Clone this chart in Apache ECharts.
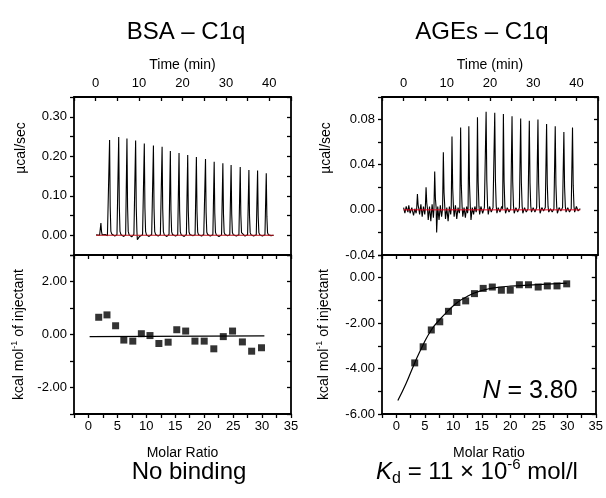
<!DOCTYPE html>
<html>
<head>
<meta charset="utf-8">
<title>ITC BSA / AGEs - C1q</title>
<script src="https://cdn.jsdelivr.net/npm/echarts@6/dist/echarts.min.js"></script>
<style>
html,body{margin:0;padding:0;background:#fff;}
#chart{width:606px;height:498px;}
</style>
</head>
<body>
<div id="chart"></div>
<script>
// ---- tick labels ----
var timeTicks = [0, 10, 20, 30, 40];
var molarTicks = [0, 5, 10, 15, 20, 25, 30, 35];
var bsaPowerTicks = [0, 0.1, 0.2, 0.3];
var agesPowerTicks = [-0.04, 0, 0.04, 0.08];
var bsaHeatTicks = [-2, 0, 2];
var agesHeatTicks = [-6, -4, -2, 0];

// ---- BSA - C1q raw thermogram (min, ucal/sec) ----
var bsaPeakTime = [1.2, 3.2, 5.3, 7.2, 9.2, 11.2, 13.3, 15.3, 17.2, 19.2, 21.2, 23.2, 25.3, 27.3, 29.3, 31.2, 33.3, 35.3, 37.3, 39.3];
var bsaPeakHeight = [0.031, 0.241, 0.249, 0.245, 0.240, 0.232, 0.227, 0.224, 0.213, 0.208, 0.203, 0.198, 0.193, 0.186, 0.182, 0.178, 0.173, 0.165, 0.164, 0.157];
var bsaNoise = [[0.1,0.001],[0.5,-0.002],[0.9,0.000],[1.7,-0.003],[2.2,0.002],[2.7,-0.001],[3.7,0.003],[4.4,-0.002],[4.9,0.001],
  [5.8,0.002],[6.4,-0.003],[6.9,0.001],[7.7,0.001],[8.3,-0.004],[8.8,0.002],[9.6,-0.011],[10.1,-0.003],[10.8,0.001],
  [11.7,0.001],[12.3,-0.003],[12.9,0.002],[13.8,0.002],[14.4,-0.002],[14.9,0.001],[15.8,0.001],[16.4,-0.003],[16.9,0.002],
  [17.7,0.002],[18.4,-0.002],[18.9,0.001],[19.7,0.001],[20.4,-0.003],[20.9,0.002],[21.7,0.002],[22.4,-0.001],[22.9,0.001],
  [23.7,0.001],[24.4,-0.002],[24.9,0.002],[25.8,0.002],[26.4,-0.002],[27.0,0.001],[27.8,0.001],[28.4,-0.003],[29.0,0.001],
  [29.8,0.002],[30.4,-0.001],[30.9,0.001],[31.7,0.001],[32.4,-0.002],[33.0,0.001],[33.8,0.002],[34.4,-0.002],[35.0,0.001],
  [35.8,0.001],[36.4,-0.002],[37.0,0.001],[37.8,0.001],[38.4,-0.002],[39.0,0.001],[39.8,0.001],[40.4,-0.001],[41.0,0.000]];
var bsaBaseTime = [0.1, 41.0];
var bsaBaseValue = [0, 0];

// ---- BSA - C1q integrated heats (molar ratio, kcal/mol) ----
var bsaRatio = [1.77, 3.2, 4.69, 6.11, 7.66, 9.14, 10.63, 12.17, 13.77, 15.26, 16.8, 18.4, 20.0, 21.66, 23.3, 24.9, 26.6, 28.2, 29.9];
var bsaHeat = [0.65, 0.74, 0.33, -0.21, -0.25, 0.03, -0.04, -0.34, -0.29, 0.18, 0.13, -0.25, -0.25, -0.54, -0.08, 0.13, -0.28, -0.63, -0.50];
var bsaFitRatio = [0.2, 30.4];
var bsaFitHeat = [-0.08, -0.05];

// ---- AGEs - C1q raw thermogram ----
var agesPeakTime = [3.2, 5.2, 7.2, 9.2, 11.2, 13.2, 15.1, 17.1, 19.1, 21.1, 23.1, 25.1, 27.1, 29.1, 31.1, 33.1, 35.1, 37.1, 39.1];
var agesPeakHeight = [0.014, 0.020, 0.034, 0.051, 0.065, 0.073, 0.074, 0.082, 0.087, 0.086, 0.085, 0.083, 0.081, 0.079, 0.080, 0.076, 0.074, 0.069, 0.073];
var agesNoise = [[0.0,0.002],[0.3,-0.003],[0.6,0.003],[1.0,-0.002],[1.2,0.004],[1.5,-0.003],[1.9,0.002],[2.3,-0.005],[2.6,0.001],[2.9,-0.003],
  [3.7,-0.004],[4.0,0.005],[4.3,-0.006],[4.6,0.003],[4.9,-0.004],
  [5.7,-0.009],[6.0,0.003],[6.3,-0.010],[6.6,0.005],[6.9,-0.007],
  [7.65,-0.020],[7.9,0.003],[8.2,-0.009],[8.5,0.004],[8.8,-0.006],
  [9.7,-0.008],[10.0,0.002],[10.3,-0.010],[10.6,0.003],[10.9,-0.004],
  [11.7,-0.006],[12.0,0.004],[12.3,-0.008],[12.6,0.002],[12.9,-0.003],
  [13.7,-0.006],[14.0,0.002],[14.3,-0.007],[14.6,0.003],[14.8,-0.003],
  [15.6,-0.009],[15.9,0.002],[16.2,-0.004],[16.5,0.003],[16.8,-0.002],
  [17.6,-0.004],[17.9,0.003],[18.3,-0.003],[18.7,0.002],
  [19.6,-0.004],[19.9,0.003],[20.3,-0.002],[20.7,0.002],
  [21.6,-0.003],[21.9,0.002],[22.3,-0.002],[22.7,0.003],
  [23.6,-0.003],[24.0,0.002],[24.4,-0.002],[24.8,0.001],
  [25.6,-0.003],[26.0,0.002],[26.4,-0.002],[26.8,0.002],
  [27.6,-0.003],[28.0,0.002],[28.4,-0.002],[28.8,0.001],
  [29.6,-0.002],[30.0,0.002],[30.4,-0.002],[30.8,0.002],
  [31.6,-0.003],[32.0,0.002],[32.4,-0.001],[32.8,0.002],
  [33.6,-0.002],[34.0,0.001],[34.4,-0.002],[34.8,0.001],
  [35.6,-0.003],[36.0,0.002],[36.4,-0.001],[36.8,0.002],
  [37.6,-0.002],[38.0,0.002],[38.4,-0.002],[38.8,0.001],
  [39.6,-0.002],[40.0,0.003],[40.4,-0.001],[40.9,0.001]];
var agesBaseTime = [0.0, 40.9];
var agesBaseValue = [0, 0];

// ---- AGEs - C1q integrated heats ----
var agesRatio = [3.24, 4.72, 6.15, 7.63, 9.16, 10.64, 12.18, 13.72, 15.25, 16.85, 18.44, 20.0, 21.6, 23.2, 24.9, 26.5, 28.2, 29.9];
var agesHeat = [-3.75, -3.04, -2.30, -1.94, -1.48, -1.09, -1.02, -0.70, -0.47, -0.41, -0.55, -0.55, -0.31, -0.31, -0.41, -0.36, -0.36, -0.27];
var agesFitRatio = [0.28, 1.7, 3.24, 4.7, 6.15, 7.6, 9.16, 10.6, 12.2, 13.7, 15.25, 16.85, 20.0, 23.2, 26.5, 29.9];
var agesFitHeat = [-5.41, -4.67, -3.75, -2.96, -2.30, -1.85, -1.44, -1.11, -0.86, -0.67, -0.55, -0.46, -0.37, -0.33, -0.28, -0.24];

var FONT = 'Liberation Sans, Arial, sans-serif';

function pairs(xs, ys) {
  var out = [];
  for (var i = 0; i < xs.length; i++) out.push([xs[i], ys[i]]);
  return out;
}

// spikes from peak time/height, baseline noise in between
function thermogram(times, heights, noise, before, after) {
  var pts = [];
  for (var i = 0; i < noise.length; i++) {
    var t = noise[i][0], keep = true;
    for (var j = 0; j < times.length; j++) {
      if (t > times[j] - before && t < times[j] + after) { keep = false; break; }
    }
    if (keep) pts.push(noise[i]);
  }
  for (var k = 0; k < times.length; k++) {
    var p = times[k], h = heights[k];
    pts.push([p - before * 0.7, 0.001]);
    pts.push([p, h]);
    pts.push([p + after * 0.4, h * 0.3]);
    pts.push([p + after * 0.85, h * 0.04]);
  }
  pts.sort(function (a, b) { return a[0] - b[0]; });
  return pts;
}

function tickFmt(list, digits) {
  return function (v) {
    for (var i = 0; i < list.length; i++) {
      if (Math.abs(v - list[i]) < 1e-6) return list[i].toFixed(digits);
    }
    return '';
  };
}

var frame = { show: true, onZero: false, lineStyle: { color: '#000', width: 1.8 } };
var tickOut = { show: true, inside: false, length: 4, lineStyle: { color: '#000', width: 1.3 } };
var tickIn = { show: true, inside: true, length: 4, lineStyle: { color: '#000', width: 1.3 } };
var nameStyle = { color: '#000', fontSize: 14, fontFamily: FONT };
var ylabStyle = {
  color: '#000', fontSize: 14, fontFamily: FONT,
  rich: {
    t: { fontSize: 14, fontFamily: FONT, color: '#000', lineHeight: 18 },
    s: { fontSize: 9, fontFamily: FONT, color: '#000', lineHeight: 9, verticalAlign: 'top' }
  }
};

function timeAxis(g) {
  return { type: 'value', gridIndex: g, position: 'top', min: -5, max: 45, interval: 5,
    name: 'Time (min)', nameLocation: 'middle', nameGap: 25, nameTextStyle: nameStyle,
    axisLine: frame, axisTick: tickIn, splitLine: { show: false },
    axisLabel: { show: true, margin: 7, formatter: tickFmt(timeTicks, 0), color: '#000', fontSize: 13, fontFamily: FONT } };
}
function plainX(g, pos, min, max, iv, ticks) {
  return { type: 'value', gridIndex: g, position: pos, min: min, max: max, interval: iv,
    axisLine: frame, axisTick: ticks, axisLabel: { show: false }, splitLine: { show: false } };
}
function molarAxis(g) {
  return { type: 'value', gridIndex: g, position: 'bottom', min: -2.5, max: 35, interval: 2.5,
    name: 'Molar Ratio', nameLocation: 'middle', nameGap: 32, nameTextStyle: nameStyle,
    axisLine: frame, axisTick: tickOut, splitLine: { show: false },
    axisLabel: { show: true, margin: 6, formatter: tickFmt(molarTicks, 0), color: '#000', fontSize: 13, fontFamily: FONT } };
}
function leftY(g, min, max, iv, list, name, gap) {
  return { type: 'value', gridIndex: g, position: 'left', min: min, max: max, interval: iv,
    name: name, nameLocation: 'middle', nameGap: gap, nameTextStyle: ylabStyle,
    axisLine: frame, axisTick: tickOut, splitLine: { show: false },
    axisLabel: { show: true, margin: 7, formatter: tickFmt(list, 2), color: '#000', fontSize: 13, fontFamily: FONT } };
}
function rightY(g, min, max, iv) {
  return { type: 'value', gridIndex: g, position: 'right', min: min, max: max, interval: iv,
    axisLine: frame, axisTick: tickIn, axisLabel: { show: false }, splitLine: { show: false } };
}

var heatName = '{t|kcal mol}{s|-1}{t| of injectant}';

function vlabel(x, y, text) {
  return { type: 'text', x: x, y: y, rotation: Math.PI / 2,
    style: { text: text, fontSize: 14, fontFamily: FONT, fill: '#000', align: 'center', verticalAlign: 'middle' } };
}

var chart = echarts.init(document.getElementById('chart'), null, { renderer: 'canvas' });
chart.setOption({
  animation: false,
  backgroundColor: '#fff',
  textStyle: { fontFamily: FONT },
  grid: [
    { left: 74, top: 97, width: 217, height: 158 },
    { left: 74, top: 255, width: 217, height: 159 },
    { left: 382, top: 97, width: 216, height: 158 },
    { left: 382, top: 255, width: 216, height: 159 }
  ],
  xAxis: [
    timeAxis(0),
    plainX(0, 'bottom', -5, 45, 5, { show: false }),
    molarAxis(1),
    plainX(1, 'top', -2.5, 35, 2.5, tickIn),
    timeAxis(2),
    plainX(2, 'bottom', -5, 45, 5, { show: false }),
    molarAxis(3),
    plainX(3, 'top', -2.5, 35, 2.5, tickIn)
  ],
  yAxis: [
    leftY(0, -0.05, 0.35, 0.05, bsaPowerTicks, '', 46),
    rightY(0, -0.05, 0.35, 0.05),
    leftY(1, -3, 3, 1, bsaHeatTicks, heatName, 46),
    rightY(1, -3, 3, 1),
    leftY(2, -0.04, 0.10, 0.02, agesPowerTicks, '', 49),
    rightY(2, -0.04, 0.10, 0.02),
    leftY(3, -6, 1, 1, agesHeatTicks, heatName, 49),
    rightY(3, -6, 1, 1)
  ],
  series: [
    { type: 'line', xAxisIndex: 0, yAxisIndex: 0, showSymbol: false, silent: true,
      lineStyle: { color: '#000', width: 1.1 }, data: thermogram(bsaPeakTime, bsaPeakHeight, bsaNoise, 0.2, 0.35) },
    { type: 'line', xAxisIndex: 0, yAxisIndex: 0, showSymbol: false, silent: true,
      lineStyle: { color: '#c0141e', width: 1 }, data: pairs(bsaBaseTime, bsaBaseValue) },
    { type: 'line', xAxisIndex: 2, yAxisIndex: 2, showSymbol: false, silent: true,
      lineStyle: { color: '#000', width: 1.2 }, data: pairs(bsaFitRatio, bsaFitHeat) },
    { type: 'scatter', xAxisIndex: 2, yAxisIndex: 2, symbol: 'rect', symbolSize: 7,
      itemStyle: { color: '#000' }, data: pairs(bsaRatio, bsaHeat) },
    { type: 'line', xAxisIndex: 4, yAxisIndex: 4, showSymbol: false, silent: true,
      lineStyle: { color: '#000', width: 1.1 }, data: thermogram(agesPeakTime, agesPeakHeight, agesNoise, 0.25, 0.4) },
    { type: 'line', xAxisIndex: 4, yAxisIndex: 4, showSymbol: false, silent: true,
      lineStyle: { color: '#e8001c', width: 1 }, data: pairs(agesBaseTime, agesBaseValue) },
    { type: 'line', xAxisIndex: 6, yAxisIndex: 6, showSymbol: false, silent: true, smooth: true,
      lineStyle: { color: '#000', width: 1.2 }, data: pairs(agesFitRatio, agesFitHeat) },
    { type: 'scatter', xAxisIndex: 6, yAxisIndex: 6, symbol: 'rect', symbolSize: 7,
      itemStyle: { color: '#000' }, data: pairs(agesRatio, agesHeat) }
  ],
  graphic: [
    vlabel(21, 148, '\u00b5cal/sec'),
    vlabel(326, 148, '\u00b5cal/sec'),
    { type: 'text', x: 186, y: 32, style: { text: 'BSA \u2013 C1q', fontSize: 24, fontFamily: FONT, fill: '#000', align: 'center', verticalAlign: 'middle' } },
    { type: 'text', x: 482, y: 32, style: { text: 'AGEs \u2013 C1q', fontSize: 24, fontFamily: FONT, fill: '#000', align: 'center', verticalAlign: 'middle' } },
    { type: 'text', x: 189, y: 472, style: { text: 'No binding', fontSize: 24, fontFamily: FONT, fill: '#000', align: 'center', verticalAlign: 'middle' } },
    { type: 'text', x: 477, y: 472, style: {
      text: '{i|K}{sub|d}{n| = 11 \u00d7 10}{sup|-6}{n| mol/l}', align: 'center', verticalAlign: 'middle',
      rich: {
        i: { fontSize: 24, fontFamily: FONT, fontStyle: 'italic', fill: '#000', lineHeight: 30 },
        n: { fontSize: 24, fontFamily: FONT, fill: '#000', lineHeight: 30 },
        sub: { fontSize: 16, fontFamily: FONT, fill: '#000', lineHeight: 16, verticalAlign: 'bottom' },
        sup: { fontSize: 15, fontFamily: FONT, fill: '#000', lineHeight: 15, verticalAlign: 'top' }
      } } },
    { type: 'text', x: 530, y: 391, style: {
      text: '{i|N}{n| = 3.80}', align: 'center', verticalAlign: 'middle',
      rich: {
        i: { fontSize: 25, fontFamily: FONT, fontStyle: 'italic', fill: '#000' },
        n: { fontSize: 25, fontFamily: FONT, fill: '#000' }
      } } }
  ]
});
</script>
</body>
</html>
